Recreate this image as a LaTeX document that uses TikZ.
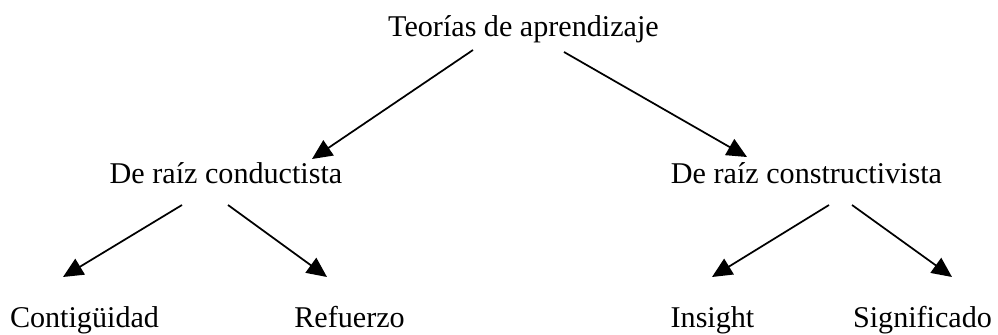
\documentclass[tikz,border=0pt]{standalone}
\usepackage{fontspec}
\setmainfont{Liberation Serif}
\usetikzlibrary{arrows.meta}
\begin{document}
\begin{tikzpicture}[x=0.75pt,y=-0.75pt,
  concept/.style={inner sep=0pt,anchor=base,font=\fontsize{22.6}{27}\selectfont},
  arr/.style={-{Triangle[length=15pt,width=13.7pt]},line width=1.3pt}]
  \useasboundingbox (0,0) rectangle (998,335);
  % top level
  \node[concept] (teorias) at (523.5,37) {Teorías de aprendizaje};
  % second level
  \node[concept] (conduct) at (226,183) {De raíz conductista};
  \node[concept] (construct) at (806.5,183) {De raíz constructivista};
  % third level
  \node[concept] (contig) at (84.5,327.5) {Contigüidad};
  \node[concept] (refuerzo) at (349.5,327.5) {Refuerzo};
  \node[concept] (insight) at (712.5,327.5) {Insight};
  \node[concept] (signif) at (922.5,327.5) {Significado};
  % arrow ends
  \coordinate (teorias-l) at (473,50);
  \coordinate (teorias-r) at (564,52);
  \coordinate (conduct-in) at (312,159);
  \coordinate (construct-in) at (747,157);
  \coordinate (conduct-l) at (182,205);
  \coordinate (conduct-r) at (228,205);
  \coordinate (construct-l) at (829,205);
  \coordinate (construct-r) at (852,205);
  \coordinate (contig-in) at (63,277);
  \coordinate (refuerzo-in) at (327,277);
  \coordinate (insight-in) at (712,277);
  \coordinate (signif-in) at (952,277);
  % arrows
  \draw[arr] (teorias-l) -- (conduct-in);
  \draw[arr] (teorias-r) -- (construct-in);
  \draw[arr] (conduct-l) -- (contig-in);
  \draw[arr] (conduct-r) -- (refuerzo-in);
  \draw[arr] (construct-l) -- (insight-in);
  \draw[arr] (construct-r) -- (signif-in);
\end{tikzpicture}
\end{document}
